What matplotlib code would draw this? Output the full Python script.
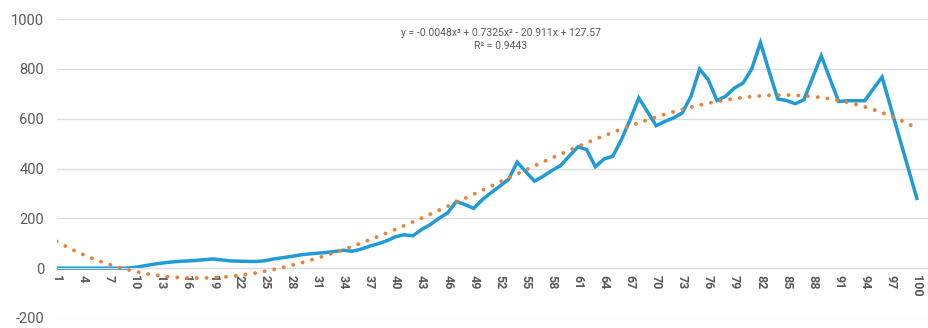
import numpy as np
import matplotlib
matplotlib.use("Agg")
import matplotlib.pyplot as plt

# daily values, x = 1..100
days = np.arange(1, 101)
values = [
    0, 0, 0, 0, 0, 0, 0, 0, 0, 3,
    9, 15, 20, 24, 27, 29, 31, 34, 37, 33,
    29, 28, 27, 27, 30, 37, 42, 47, 53, 57,
    60, 63, 67, 72, 68, 76, 88, 98, 110, 126,
    134, 130, 155, 175, 200, 222, 268, 255, 240, 275,
    303, 329, 356, 425, 387, 349, 369, 392, 412, 450,
    487, 476, 407, 438, 449, 516, 596, 683, 628, 572,
    589, 603, 623, 690, 799, 756, 673, 690, 723, 743,
    800, 905, 790, 679, 673, 660, 676, 764, 852, 760,
    669, 672, 672, 672, 720, 767, 645, 523, 402, 280,
]

# cubic trendline coefficients (highest power first) and fit quality
trend_coef = [-0.0048, 0.7325, -20.911, 127.57]
trend_r2 = 0.9443
trend_label = "y = -0.0048x³ + 0.7325x² - 20.911x + 127.57\nR² = 0.9443"

x_ticks = list(range(1, 101, 3))
y_ticks = [-200, 0, 200, 400, 600, 800, 1000]

BLUE = "#1f9bd7"
ORANGE = "#e8803a"
GRID = "#dedede"
TXT = "#595959"

plt.rcParams["font.family"] = ["Roboto", "DejaVu Sans"]

fig = plt.figure(figsize=(9.29, 3.28), dpi=100)
ax = fig.add_axes([0.061, 0.0305, 0.939, 0.9115])

# spine position first: moving it resets the tick label styling
for s in ("top", "right", "left"):
    ax.spines[s].set_visible(False)
ax.spines["bottom"].set_position(("data", 0))
ax.spines["bottom"].set_color(GRID)

trend = np.polyval(trend_coef, days)
ax.plot(days, trend, color=ORANGE, lw=2.8, linestyle=(0, (0.01, 2.5)),
        dash_capstyle="round", zorder=3)
ax.plot(days, values, color=BLUE, lw=2.5, solid_joinstyle="miter", zorder=2)

ax.set_xlim(1, 101.4)
ax.set_ylim(-200, 1000)
ax.set_yticks(y_ticks)
ax.set_yticklabels([str(v) for v in y_ticks], fontsize=10.5, color=TXT)
ax.set_xticks(x_ticks)
ax.set_xticklabels([str(v) for v in x_ticks], rotation=270, fontsize=9,
                   fontweight="bold", color=TXT, ha="center", va="top")

ax.yaxis.grid(True, color=GRID, lw=1)
ax.set_axisbelow(True)
ax.tick_params(axis="y", length=0, pad=9)
ax.tick_params(axis="x", length=0, pad=5)

ax.text(52.1, 918, trend_label, ha="center", va="center", fontsize=7.5,
        color=TXT, linespacing=1.35)

fig.savefig("out.png", dpi=100)
